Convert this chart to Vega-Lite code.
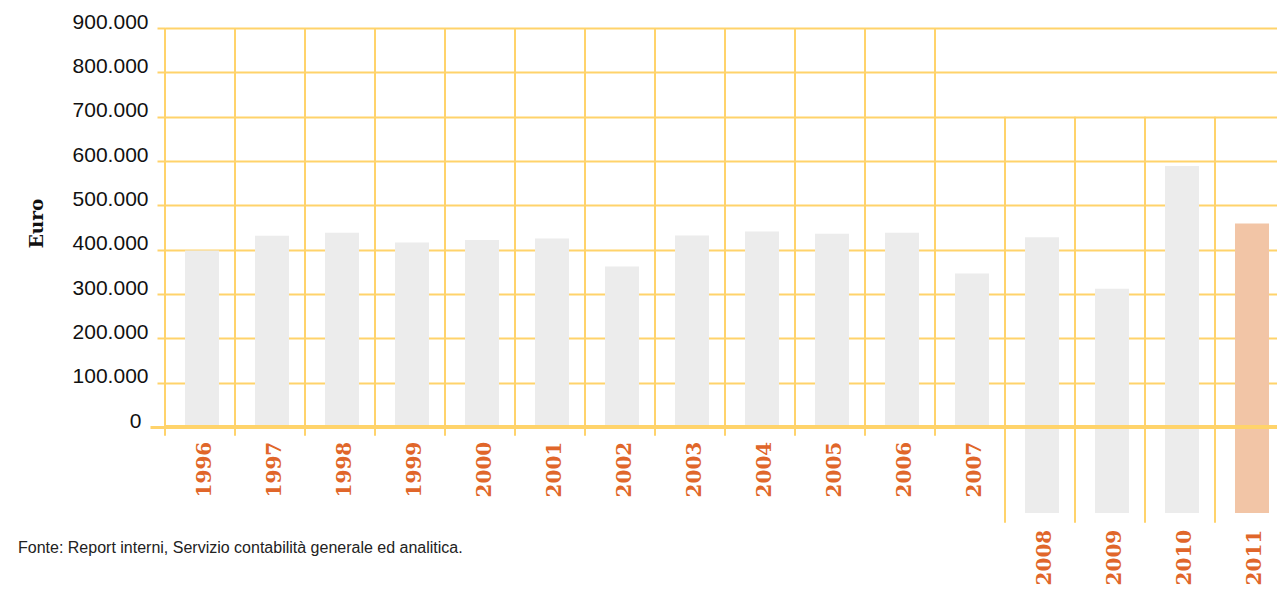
{
  "$schema": "https://vega.github.io/schema/vega-lite/v6.json",
  "autosize": "none",
  "padding": {"left": 165, "top": 28, "right": 0, "bottom": 162},
  "width": 1112,
  "height": 399,
  "background": "white",
  "config": {"view": {"stroke": null}},
  "title": {
    "text": "Fonte: Report interni, Servizio contabilità generale ed analitica.",
    "orient": "bottom",
    "anchor": "start",
    "frame": "group",
    "font": "Liberation Sans",
    "fontSize": 16,
    "fontWeight": "normal",
    "color": "#222222",
    "dx": -147,
    "dy": -45,
    "offset": 0,
    "baseline": "top"
  },
  "data": {
    "values": [
      {"year": "1996", "value": 398000},
      {"year": "1997", "value": 431500},
      {"year": "1998", "value": 438000},
      {"year": "1999", "value": 416000},
      {"year": "2000", "value": 422000},
      {"year": "2001", "value": 425000},
      {"year": "2002", "value": 362000},
      {"year": "2003", "value": 432000},
      {"year": "2004", "value": 441000},
      {"year": "2005", "value": 436000},
      {"year": "2006", "value": 438000},
      {"year": "2007", "value": 346000},
      {"year": "2008", "value": 428000},
      {"year": "2009", "value": 312000},
      {"year": "2010", "value": 589000},
      {"year": "2011", "value": 459000}
    ]
  },
  "encoding": {
    "x": {
      "field": "year",
      "type": "ordinal",
      "axis": null,
      "scale": {"range": [0, 1120], "paddingInner": 0, "paddingOuter": 0}
    }
  },
  "layer": [
    {
      "transform": [{"filter": "toNumber(datum.year) < 2008"}],
      "mark": {"type": "bar", "width": {"band": 0.486}, "xOffset": 2},
      "encoding": {
        "y": {
          "field": "value",
          "type": "quantitative",
          "scale": {"domain": [0, 900000], "nice": false},
          "axis": {
            "title": "Euro",
            "values": [0, 100000, 200000, 300000, 400000, 500000, 600000, 700000, 800000, 900000],
            "labelExpr": "replace(format(datum.value, ','), ',', '.')",
            "labelFont": "Liberation Sans",
            "labelFontSize": 21,
            "labelColor": "#111111",
            "labelBaseline": "alphabetic",
            "labelPadding": 9,
            "labelFlush": false,
            "labelOverlap": false,
            "tickSize": {"condition": {"test": "datum.value == 0", "value": 15}, "value": 8},
            "tickColor": "#ffd36b",
            "tickWidth": {"condition": {"test": "datum.value == 0", "value": 3}, "value": 2},
            "domain": false,
            "grid": true,
            "gridColor": "#ffd36b",
            "gridWidth": 2,
            "titleFont": "DejaVu Serif",
            "titleFontWeight": "bold",
            "titleFontSize": 18.5,
            "titleColor": "#111111",
            "titleAngle": -90,
            "titleX": -129,
            "titleY": 195,
            "titleAlign": "center",
            "titleBaseline": "middle"
          }
        },
        "y2": {"datum": 0},
        "color": {
          "condition": {"test": "datum.year == '2011'", "value": "#f2c5a6"},
          "value": "#ececec"
        }
      }
    },
    {
      "transform": [{"filter": "toNumber(datum.year) >= 2008"}],
      "mark": {"type": "bar", "width": {"band": 0.486}, "xOffset": 2},
      "encoding": {
        "y": {"field": "value", "type": "quantitative"},
        "y2": {"datum": -194000},
        "color": {
          "condition": {"test": "datum.year == '2011'", "value": "#f2c5a6"},
          "value": "#ececec"
        }
      }
    },
    {
      "transform": [{"filter": "toNumber(datum.year) < 2008"}],
      "mark": {"type": "rule", "color": "#ffd36b", "strokeWidth": 2},
      "encoding": {
        "x": {"field": "year", "type": "ordinal", "bandPosition": 0},
        "y": {"datum": 900000},
        "y2": {"datum": -19600}
      }
    },
    {
      "transform": [{"filter": "toNumber(datum.year) >= 2008"}],
      "mark": {"type": "rule", "color": "#ffd36b", "strokeWidth": 2},
      "encoding": {
        "x": {"field": "year", "type": "ordinal", "bandPosition": 0},
        "y": {"datum": 700000},
        "y2": {"datum": -216000}
      }
    },
    {
      "mark": {"type": "rule", "color": "#ffd36b", "strokeWidth": 3},
      "encoding": {"x": {"value": 0}, "x2": {"value": 1112}, "y": {"datum": 0}}
    },
    {
      "transform": [{"filter": "toNumber(datum.year) < 2008"}],
      "mark": {
        "type": "text",
        "angle": 270,
        "align": "right",
        "baseline": "middle",
        "font": "DejaVu Serif",
        "fontWeight": "bold",
        "fontSize": 20,
        "color": "#e0662a",
        "xOffset": 5
      },
      "encoding": {
        "y": {"datum": -33200},
        "text": {"field": "year"}
      }
    },
    {
      "transform": [{"filter": "toNumber(datum.year) >= 2008"}],
      "mark": {
        "type": "text",
        "angle": 270,
        "align": "right",
        "baseline": "middle",
        "font": "DejaVu Serif",
        "fontWeight": "bold",
        "fontSize": 20,
        "color": "#e0662a",
        "xOffset": 5
      },
      "encoding": {
        "y": {"datum": -231700},
        "text": {"field": "year"}
      }
    }
  ]
}
